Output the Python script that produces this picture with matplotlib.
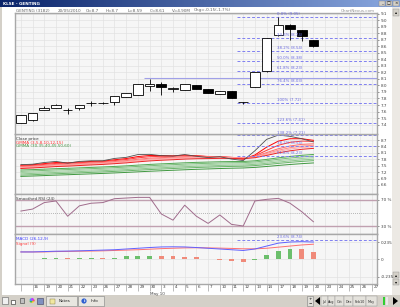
import numpy as np
import matplotlib.pyplot as plt
from matplotlib.patches import Rectangle, Circle, Polygon

# ---- data (GENTING, 15 Apr - 20 May 2010) ----
dates = ['15', '16', '19', '20', '21', '22', '23', '26', '27', '28', '29', '30',
         '3', '4', '5', '6', '7', '10', '11', '12', '13', '14', '17', '18', '19', '20']
future_dates = ['23', '24', '25', '26', '27']

opens  = [7.43, 7.47, 7.62, 7.66, 7.62, 7.66, 7.73, 7.73, 7.74, 7.82, 7.86, 7.99, 8.03,
          7.95, 7.93, 8.01, 7.95, 7.87, 7.92, 7.74, 7.98, 8.22, 8.77, 8.93, 8.85, 8.70]
highs  = [7.55, 7.57, 7.68, 7.72, 7.66, 7.70, 7.76, 7.74, 7.84, 7.89, 8.02, 8.10, 8.06,
          7.98, 8.02, 8.01, 7.95, 7.92, 7.92, 7.75, 8.20, 8.73, 9.05, 8.95, 8.85, 8.70]
lows   = [7.43, 7.46, 7.62, 7.66, 7.56, 7.62, 7.69, 7.72, 7.70, 7.82, 7.86, 7.92, 7.85,
          7.90, 7.93, 7.94, 7.88, 7.87, 7.80, 7.72, 7.98, 8.20, 8.76, 8.70, 8.68, 8.59]
closes = [7.55, 7.57, 7.65, 7.70, 7.62, 7.70, 7.73, 7.73, 7.84, 7.89, 8.02, 8.03, 7.97,
          7.95, 8.02, 7.94, 7.88, 7.92, 7.81, 7.74, 8.20, 8.73, 8.93, 8.87, 8.76, 8.61]

# fibonacci retracement lines (main pane); the last label sits on the pane edge
fib_levels = [9.05, 8.73, 8.53, 8.38, 8.22, 8.02, 7.73, 7.42]
fib_labels = ['0.0% (9.05)', '23.6% (8.74)', '38.2% (8.54)', '50.0% (8.38)', '61.8% (8.23)',
              '76.4% (8.03)', '100% (7.72)', '123.6% (7.41)']
edge_label = '138.2% (7.21)'
resistance = 8.11

fast_periods = [3, 5, 8, 10, 12, 15]
fast_start = [7.52, 7.49, 7.46, 7.43, 7.40, 7.37]
slow_periods = [30, 35, 40, 45, 50, 60]
slow_start = [7.30, 7.24, 7.18, 7.12, 7.06, 7.00]
gmma_fib_levels = [8.93, 8.42, 7.97]
gmma_fib_labels = ['', '38.2% (8.54)', '61.8% (8.23)']

rsi = [53, 56, 66, 68.5, 45, 61, 65, 66, 72, 73, 74, 74, 48.5, 39, 62, 45,
       34, 47, 32.5, 30, 68.5, 71, 72.5, 65, 52, 36.5]

macd   = [0.100, 0.100, 0.105, 0.110, 0.112, 0.115, 0.120, 0.125, 0.130, 0.140, 0.150, 0.160, 0.168,
          0.170, 0.168, 0.160, 0.150, 0.140, 0.130, 0.120, 0.140, 0.180, 0.220, 0.235, 0.240, 0.235]
signal = [0.100, 0.100, 0.100, 0.105, 0.107, 0.110, 0.112, 0.115, 0.120, 0.125, 0.130, 0.137, 0.145,
          0.150, 0.155, 0.157, 0.155, 0.152, 0.148, 0.143, 0.142, 0.150, 0.165, 0.180, 0.195, 0.205]
hist   = [0.005, 0.005, 0.020, 0.020, 0.015, 0.015, 0.020, 0.020, 0.020, 0.040, 0.045, 0.045, 0.050,
          0.040, 0.035, 0.030, 0.005, -0.010, -0.020, -0.040, -0.010, 0.060, 0.110, 0.140, 0.135, 0.105]
hist_up = [0, 1, 1, 1, 0, 1, 1, 0, 1, 1, 1, 1, 0, 0, 0, 0, 0, 0, 0, 0, 1, 1, 1, 1, 0, 0]
macd_fib_level = 0.262
macd_fib_label = '23.6% (8.74)'


def ema(values, span, start):
    a = 2.0 / (span + 1)
    out = [start]
    for v in values[1:]:
        out.append(out[-1] + a * (v - out[-1]))
    return out


W, H = 400, 307
fig = plt.figure(figsize=(W / 100, H / 100), dpi=100)
fig.patch.set_facecolor('white')

# window chrome drawn in pixel coordinates
bg = fig.add_axes([0, 0, 1, 1])
bg.set_xlim(0, W)
bg.set_ylim(H, 0)
bg.axis('off')
bg.set_zorder(0)

grad = np.linspace(0, 1, 200)
c0 = np.array([0x0a, 0x24, 0x6a]) / 255
c1 = np.array([0x8a, 0xa8, 0xe0]) / 255
img = (c0[None, :] * (1 - grad[:, None]) + c1[None, :] * grad[:, None])[None, :, :]
bg.imshow(img, extent=[0, W, 7, 0], aspect='auto', zorder=1)
bg.text(3, 3.6, 'KLSE - GENTING', color='white', fontsize=3, fontweight='bold', va='center')
for bx, glyph in zip([379, 386, 393], ['_', '\u25a1', '\u00d7']):
    bg.add_patch(Rectangle((bx, 1), 6, 5, facecolor='#d4d0c8', edgecolor='#808080', lw=0.3, zorder=2))
    bg.text(bx + 3, 3.6, glyph, fontsize=3, ha='center', va='center', zorder=3)

bg.add_patch(Rectangle((0, 7), 2, 288, facecolor='#d4d0c8', edgecolor='none'))
bg.add_patch(Rectangle((392, 7), 8, 288, facecolor='#ece9e4', edgecolor='none'))
bg.add_patch(Rectangle((393, 9), 6, 7, facecolor='#d4d0c8', edgecolor='#909090', lw=0.3))
bg.text(396, 12.5, '\u25b4', fontsize=3, ha='center', va='center')
for yy, g in [(272, '\u25b4'), (279, '\u25be')]:
    bg.add_patch(Rectangle((393, yy), 6, 6, facecolor='#d4d0c8', edgecolor='#909090', lw=0.3))
    bg.text(396, yy + 3, g, fontsize=3, ha='center', va='center')

header = [(16, 'GENTING (3182)'), (58, '20/05/2010'), (86, 'O=8.7'), (106, 'H=8.7'),
          (128, 'L=8.59'), (150, 'C=8.61'), (172, 'V=4.90M'), (194, 'Chg=-0.15(-1.7%)')]
for hx, t in header:
    bg.text(hx, 10.5, t, fontsize=3, color='#606060', va='center')
bg.text(375, 10.5, 'ChartNexus.com', fontsize=3, color='#909090', va='center', ha='right')

# bottom tool bar
bg.add_patch(Rectangle((0, 295), W, 12, facecolor='#d4d0c8', edgecolor='none'))
bg.add_patch(Rectangle((2, 297), 6, 7, facecolor='#f0f0f0', edgecolor='#606060', lw=0.4))
bg.add_patch(Rectangle((11, 300), 4, 4, facecolor='white', edgecolor='#202020', lw=0.4))
bg.add_patch(Rectangle((20, 298), 4, 5, facecolor='#c0c0c0', edgecolor='#404040', lw=0.4))
for k, col in enumerate(['#ff4040', '#ffd040', '#40c040', '#40a0ff', '#c040ff']):
    bg.add_patch(Circle((32 + 1.2 * np.cos(k * 1.26), 300.5 + 1.2 * np.sin(k * 1.26)), 1.4,
                        facecolor=col, edgecolor='none'))
bg.add_patch(Rectangle((37, 297.5), 6, 6, facecolor='#8090c0', edgecolor='#404060', lw=0.4))
for x0, x1, label in [(46, 77, 'Notes'), (78, 104, 'Info')]:
    bg.add_patch(Rectangle((x0, 296), x1 - x0, 10, facecolor='#e8e6e0', edgecolor='#808080', lw=0.4))
    bg.text(x0 + 13, 301, label, fontsize=3, va='center', color='#202020')
bg.add_patch(Rectangle((50, 298.5), 5, 5, facecolor='#f0e8a0', edgecolor='#807040', lw=0.3))
bg.add_patch(Circle((84, 301), 2.6, facecolor='#3060d0', edgecolor='none'))
bg.text(84, 301, 'i', fontsize=3, color='white', ha='center', va='center', fontweight='bold')
bg.add_patch(Rectangle((307, 296), 6, 10, facecolor='#e0ded8', edgecolor='#808080', lw=0.4))
bg.text(310, 298.5, '+', fontsize=3, ha='center', va='center')
bg.text(310, 303.5, '\u2212', fontsize=3, ha='center', va='center')
bg.add_patch(Polygon([(320, 297), (320, 305), (315, 301)], closed=True, facecolor='black'))
months = ['Jul', 'Aug', 'Oct', 'Dec', 'Feb10', 'May']
mx = [321, 328, 335, 344, 353, 366, 377]
for k, m in enumerate(months):
    bg.add_patch(Rectangle((mx[k], 296), mx[k + 1] - mx[k], 10, facecolor='#e4e2dc',
                           edgecolor='#909090', lw=0.3))
    bg.text((mx[k] + mx[k + 1]) / 2, 302, m, fontsize=2.4, ha='center', va='center', color='#303030')
bg.add_patch(Rectangle((383, 297), 2, 8, facecolor='#30d030', edgecolor='none'))
bg.add_patch(Rectangle((386, 297), 2, 8, facecolor='#e8e8e8', edgecolor='none'))
bg.add_patch(Polygon([(393, 297), (393, 305), (398, 301)], closed=True, facecolor='black'))


def pane(top, bottom, z=2):
    ax = fig.add_axes([15 / W, 1 - bottom / H, 362 / W, (bottom - top) / H])
    ax.set_zorder(z)
    ax.set_facecolor('#f6f6f6')
    ax.set_xlim(-0.5, 30.43)
    ax.yaxis.tick_right()
    ax.tick_params(axis='y', labelsize=3, colors='#404040', length=1.5, width=0.4, pad=1.5)
    ax.tick_params(axis='x', length=0, labelbottom=False)
    ax.set_xticks(range(len(dates) + len(future_dates)))
    ax.grid(True, color='#e2e2e2', lw=0.5)
    ax.set_axisbelow(True)
    for s in ax.spines.values():
        s.set_color('#a8a8a8')
        s.set_linewidth(1.0)
    return ax


x = np.arange(len(dates))
fx0, fx1 = 18.5, 30.43

# ---- main candle pane ----
ax = pane(13, 134, z=3)
ax.set_ylim(7.254, 9.115)
ax.set_yticks(np.round(np.arange(7.4, 9.15, 0.1), 1))
o, h, l, c = map(np.array, (opens, highs, lows, closes))
up = c >= o
ax.vlines(x, l, h, color='black', lw=0.6, zorder=3)
body_h = np.maximum(np.abs(c - o), 0.004)
ax.bar(x, body_h, bottom=np.minimum(o, c), width=0.82,
       color=np.where(up, 'white', 'black'), edgecolor='black', lw=0.6, zorder=4)
ax.hlines(resistance, 10.5, fx1, color='#a0a0e8', lw=0.8, zorder=2)
for lv, lb in zip(fib_levels, fib_labels):
    ax.hlines(lv, fx0, fx1, color='#8080f0', lw=0.7, linestyles=(0, (3, 2)), zorder=2)
    ax.text(21.9, lv + 0.012, lb, fontsize=2.8, color='#6a6ae0', va='bottom', zorder=5)
ax.text(21.9, 7.27, edge_label, fontsize=2.8, color='#6a6ae0', va='center', zorder=5, clip_on=False)

# ---- GMMA pane ----
ax2 = pane(134, 194)
ax2.set_ylim(6.18, 8.98)
ax2.set_yticks(np.round(np.arange(6.6, 8.75, 0.3), 1))
reds = ['#ff0000', '#ff3a3a', '#ff6a6a', '#ff8c8c', '#ffaaaa', '#ee2222']
greens = ['#50a850', '#78bc78', '#a0d0a0', '#8cc68c', '#68b468', '#409840']
for p, s0, col in zip(slow_periods, slow_start, greens):
    ax2.plot(x, ema(closes, p, s0), color=col, lw=0.7)
for p, s0, col in zip(fast_periods, fast_start, reds):
    ax2.plot(x, ema(closes, p, s0), color=col, lw=0.7)
ax2.plot(x, closes, color='#505050', lw=0.6)
for lv, lb in zip(gmma_fib_levels, gmma_fib_labels):
    ax2.hlines(lv, fx0, fx1, color='#8080f0', lw=0.7, linestyles=(0, (3, 2)))
    if lb:
        ax2.text(21.9, lv + 0.04, lb, fontsize=2.8, color='#6a6ae0', va='bottom')
ax2.text(0.004, 0.95, 'Close price', transform=ax2.transAxes, fontsize=3, color='#303030', va='top')
ax2.text(0.004, 0.89, 'GMMA (3,5,8,10,12,15)', transform=ax2.transAxes, fontsize=3,
         color='#ff3030', va='top')
ax2.text(0.004, 0.83, 'GMMA (30,35,40,45,50,60)', transform=ax2.transAxes, fontsize=3,
         color='#409040', va='top')

# ---- RSI pane ----
ax3 = pane(194, 234)
ax3.set_ylim(17.7, 79.2)
ax3.set_yticks([30, 70])
ax3.set_yticklabels(['30 %', '70 %'])
ax3.axhline(70, color='#c0a0b0', lw=1.0, zorder=2)
ax3.axhline(30, color='#c0a0b0', lw=1.0, zorder=2)
ax3.axhline(50, color='#a0a0a0', lw=0.6, ls=(0, (1, 1.5)), zorder=2)
ax3.plot(x, rsi, color='#a06c8c', lw=0.7, zorder=3)
ax3.text(0.004, 0.93, 'Smoothed RSI (24)', transform=ax3.transAxes, fontsize=3,
         color='#404040', va='top')

# ---- MACD pane ----
ax4 = pane(234, 284)
ax4.set_ylim(-0.336, 0.344)
ax4.set_yticks([-0.235, 0, 0.235])
ax4.set_yticklabels(['-0.235', '0', '0.235'])
ax4.bar(x, hist, width=0.42, color=np.where(np.array(hist_up) == 1, '#6cbf6c', '#f08a7a'), zorder=3)
ax4.plot(x, signal, color='#ff7070', lw=0.7, zorder=4)
ax4.plot(x, macd, color='#6060ff', lw=0.7, zorder=4)
ax4.hlines(macd_fib_level, fx0, fx1, color='#8080f0', lw=0.7, linestyles=(0, (3, 2)))
ax4.text(21.9, macd_fib_level + 0.01, macd_fib_label, fontsize=2.8, color='#6a6ae0', va='bottom')
ax4.text(0.004, 0.93, 'MACD (26,12,9)', transform=ax4.transAxes, fontsize=3, color='#4040ff', va='top')
ax4.text(0.004, 0.85, 'Signal (9)', transform=ax4.transAxes, fontsize=3, color='#ff4040', va='top')
ax4.tick_params(axis='x', length=5, width=0.5, color='#a0a0a0', direction='out')
all_dates = dates + future_dates
for i, d in enumerate(all_dates):
    if i == 0:
        continue
    ax4.text(i + 0.12, -0.025, d, transform=ax4.get_xaxis_transform(), fontsize=3,
             color='#404040', ha='left', va='top')
ax4.text(11.0, -0.16, 'May 10', transform=ax4.get_xaxis_transform(), fontsize=3,
         color='#404040', ha='left', va='top')

fig.savefig('out.png', dpi=100)
